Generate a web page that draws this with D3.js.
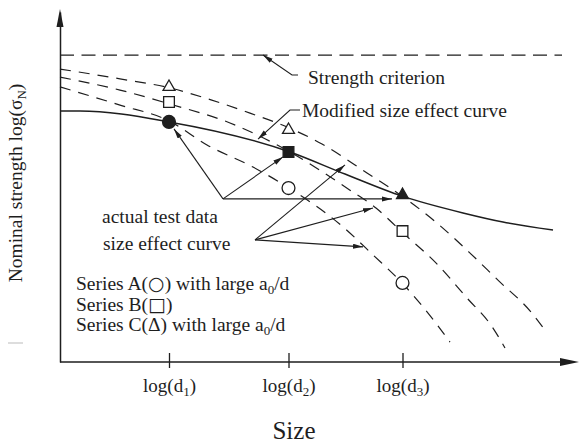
<!DOCTYPE html>
<html><head><meta charset="utf-8">
<script src="https://cdn.jsdelivr.net/npm/d3@7"></script>
<style>
body{margin:0;background:#fff}
svg{display:block}
text{font-family:"Liberation Serif","Times New Roman",serif;fill:#1e1e1e}
</style>
</head><body><svg id="c" width="580" height="445"></svg>
<script>
// ---------- data (abstract log units) ----------
const sizeTicks = [2.18, 4.57, 6.85];
const sizeTickSubs = ["1", "2", "3"];
const strengthCriterion = 8.77;

// size effect curve (solid)
const sizeEffectX = [0, 0.4, 2.18, 4.6, 5.7, 6.84, 8.06, 8.86, 9.86];
const sizeEffectY = [7.17, 7.17, 6.86, 6.0, 5.37, 4.74, 4.26, 4.0, 3.77];

// modified size effect curves (dashed)
const curveAX = [0, 1.2, 2.18, 2.94, 3.86, 4.58, 5.66, 6.26, 6.84, 7.28, 7.8];
const curveAY = [7.86, 7.34, 6.89, 6.2, 5.57, 4.97, 3.86, 3.06, 2.26, 1.54, 0.57];
const curveBX = [0, 1.2, 2.2, 3.4, 4.6, 5.8, 6.32, 6.82, 7.56, 8.12, 8.66, 8.9];
const curveBY = [8.14, 7.77, 7.37, 6.83, 6.0, 4.91, 4.4, 3.74, 2.77, 1.86, 0.97, 0.4];
const curveCX = [0, 1.2, 2.2, 3.02, 3.8, 4.58, 5.24, 6.14, 6.84, 7.54, 8.18, 8.78, 9.4, 9.74];
const curveCY = [8.37, 8.09, 7.83, 7.49, 7.11, 6.69, 6.23, 5.4, 4.74, 3.97, 3.14, 2.31, 1.46, 0.83];

// test data points at d1, d2, d3
const seriesA = [6.86, 4.97, 2.26];
const seriesAFilled = [true, false, false];
const seriesB = [7.43, 6.0, 3.74];
const seriesBFilled = [false, true, false];
const seriesC = [7.86, 6.63, 4.77];
const seriesCFilled = [false, false, true];

// annotation leaders (polyline, arrow at last point)
const leaderStrength = [[4.76, 8.2], [4.64, 8.2], [4.06, 8.77]];
const leaderModified = [[4.8, 7.2], [4.6, 7.2], [3.96, 6.37]];
const testDataOrigin = [3.26, 4.66];
const testDataTargets = [[2.28, 6.66], [4.46, 5.86], [6.64, 4.66]];
const curveOrigin = [3.9, 3.49];
const curveTargets = [[5.7, 5.63], [6.26, 4.4], [6.06, 3.29]];

// ---------- chart ----------
const svg = d3.select("#c");
const x = d3.scaleLinear().domain([0, 10]).range([60, 560]);
const y = d3.scaleLinear().domain([0, 10]).range([362, 12]);
const ink = "#1e1e1e";

const defs = svg.append("defs");
defs.append("marker").attr("id", "ah")
  .attr("markerUnits", "userSpaceOnUse")
  .attr("markerWidth", 11).attr("markerHeight", 6)
  .attr("refX", 10).attr("refY", 2.5).attr("orient", "auto")
  .append("path").attr("d", "M0,0L10,2.5L0,5Z").attr("fill", ink);

// axes
const xAxis = d3.axisBottom(x).tickValues(sizeTicks).tickSize(6).tickFormat("");
const gx = svg.append("g").attr("transform", `translate(0,${y(0)})`).call(xAxis);
gx.select(".domain").remove();
gx.selectAll(".tick line").attr("y1", -9).attr("y2", 6).attr("stroke", ink).attr("stroke-width", 1.3);
gx.selectAll(".tick").append("text")
  .attr("y", 30).attr("text-anchor", "middle").attr("font-size", 19).attr("fill", ink)
  .each(function(d, i) {
    const t = d3.select(this);
    t.append("tspan").text("log(d");
    t.append("tspan").attr("font-size", 13).attr("dy", 4).text(sizeTickSubs[i]);
    t.append("tspan").attr("dy", -4).text(")");
  });

svg.append("line").attr("x1", x(0)).attr("x2", 566).attr("y1", y(0)).attr("y2", y(0))
  .attr("stroke", ink).attr("stroke-width", 1.5);
svg.append("path").attr("d", `M560,${y(0)-4}L579,${y(0)}L560,${y(0)+4}Z`).attr("fill", ink);

const yAxis = d3.axisLeft(y).tickValues([]).tickSizeOuter(0);
const gy = svg.append("g").attr("transform", `translate(${x(0)},0)`).call(yAxis);
gy.select(".domain").attr("stroke", ink).attr("stroke-width", 1.5);
svg.append("path").attr("d", `M${x(0)-3.5},27L${x(0)},9L${x(0)+3.5},27Z`).attr("fill", ink);

// strength criterion
svg.append("line").attr("x1", x(0)).attr("x2", 562)
  .attr("y1", y(strengthCriterion)).attr("y2", y(strengthCriterion))
  .attr("stroke", ink).attr("stroke-width", 1.3).attr("stroke-dasharray", "14,7.5");

// curves
const line = d3.line().x(d => x(d[0])).y(d => y(d[1])).curve(d3.curveMonotoneX);
const zip = (a, b) => a.map((v, i) => [v, b[i]]);
[[curveAX, curveAY], [curveBX, curveBY], [curveCX, curveCY]].forEach(([cx, cy]) => {
  svg.append("path").attr("d", line(zip(cx, cy))).attr("fill", "none")
    .attr("stroke", ink).attr("stroke-width", 1.2).attr("stroke-dasharray", "11,8");
});
svg.append("path").attr("d", line(zip(sizeEffectX, sizeEffectY))).attr("fill", "none")
  .attr("stroke", ink).attr("stroke-width", 1.5);

// leaders
const poly = d3.line().x(d => x(d[0])).y(d => y(d[1]));
[leaderStrength, leaderModified].forEach(p => {
  svg.append("path").attr("d", poly(p)).attr("fill", "none").attr("stroke", ink)
    .attr("stroke-width", 1.1).attr("marker-end", "url(#ah)");
});
[[testDataOrigin, testDataTargets], [curveOrigin, curveTargets]].forEach(([o, ts]) => {
  ts.forEach(t => {
    svg.append("path").attr("d", poly([o, t])).attr("fill", "none").attr("stroke", ink)
      .attr("stroke-width", 1.1).attr("marker-end", "url(#ah)");
  });
});

// markers
const symCircle = d3.symbol().type(d3.symbolCircle).size(130);
const symSquare = d3.symbol().type(d3.symbolSquare).size(115);
const symTri = d3.symbol().type(d3.symbolTriangle).size(62);
[[seriesA, seriesAFilled, symCircle], [seriesB, seriesBFilled, symSquare], [seriesC, seriesCFilled, symTri]]
  .forEach(([vals, filled, sym]) => {
    vals.forEach((v, i) => {
      svg.append("path").attr("d", sym())
        .attr("transform", `translate(${x(sizeTicks[i])},${y(v)})`)
        .attr("fill", filled[i] ? ink : "#fff").attr("stroke", ink).attr("stroke-width", 1.3);
    });
  });

// labels
const fs = 19.5;
svg.append("text").attr("x", 308).attr("y", 84).attr("font-size", fs).text("Strength criterion");
svg.append("text").attr("x", 302).attr("y", 117).attr("font-size", fs).text("Modified size effect curve");
svg.append("text").attr("x", 102).attr("y", 223).attr("font-size", fs).text("actual test data");
svg.append("text").attr("x", 103).attr("y", 250).attr("font-size", fs).text("size effect curve");

function seriesLine(yy, parts) {
  const t = svg.append("text").attr("x", 76).attr("y", yy).attr("font-size", fs);
  parts.forEach(p => {
    const s = t.append("tspan").text(p.t);
    if (p.sym) s.attr("font-family", "DejaVu Sans").attr("font-size", 19);
    if (p.sub) s.attr("font-size", 13).attr("dy", 4);
    if (p.up) s.attr("dy", -4);
  });
}
seriesLine(290, [{t: "Series A("}, {t: "\u25CB", sym: true}, {t: ") with large a"}, {t: "0", sub: true}, {t: "/d", up: true}]);
seriesLine(311, [{t: "Series B("}, {t: "\u25A1", sym: true}, {t: ")"}]);
seriesLine(331, [{t: "Series C(\u0394) with large a"}, {t: "0", sub: true}, {t: "/d", up: true}]);

svg.append("text").attr("x", 294).attr("y", 439).attr("text-anchor", "middle")
  .attr("font-size", 25).text("Size");

const yl = svg.append("text").attr("transform", "translate(22,183) rotate(-90)")
  .attr("text-anchor", "middle").attr("font-size", 19.5);
yl.append("tspan").text("Nominal strength log(\u03C3");
yl.append("tspan").attr("font-size", 13).attr("dy", 4).text("N");
yl.append("tspan").attr("dy", -4).text(")");

// small stray mark from the original
svg.append("line").attr("x1", 8).attr("x2", 23).attr("y1", 343).attr("y2", 343)
  .attr("stroke", "#bbb").attr("stroke-width", 1);
</script>
</body></html>
